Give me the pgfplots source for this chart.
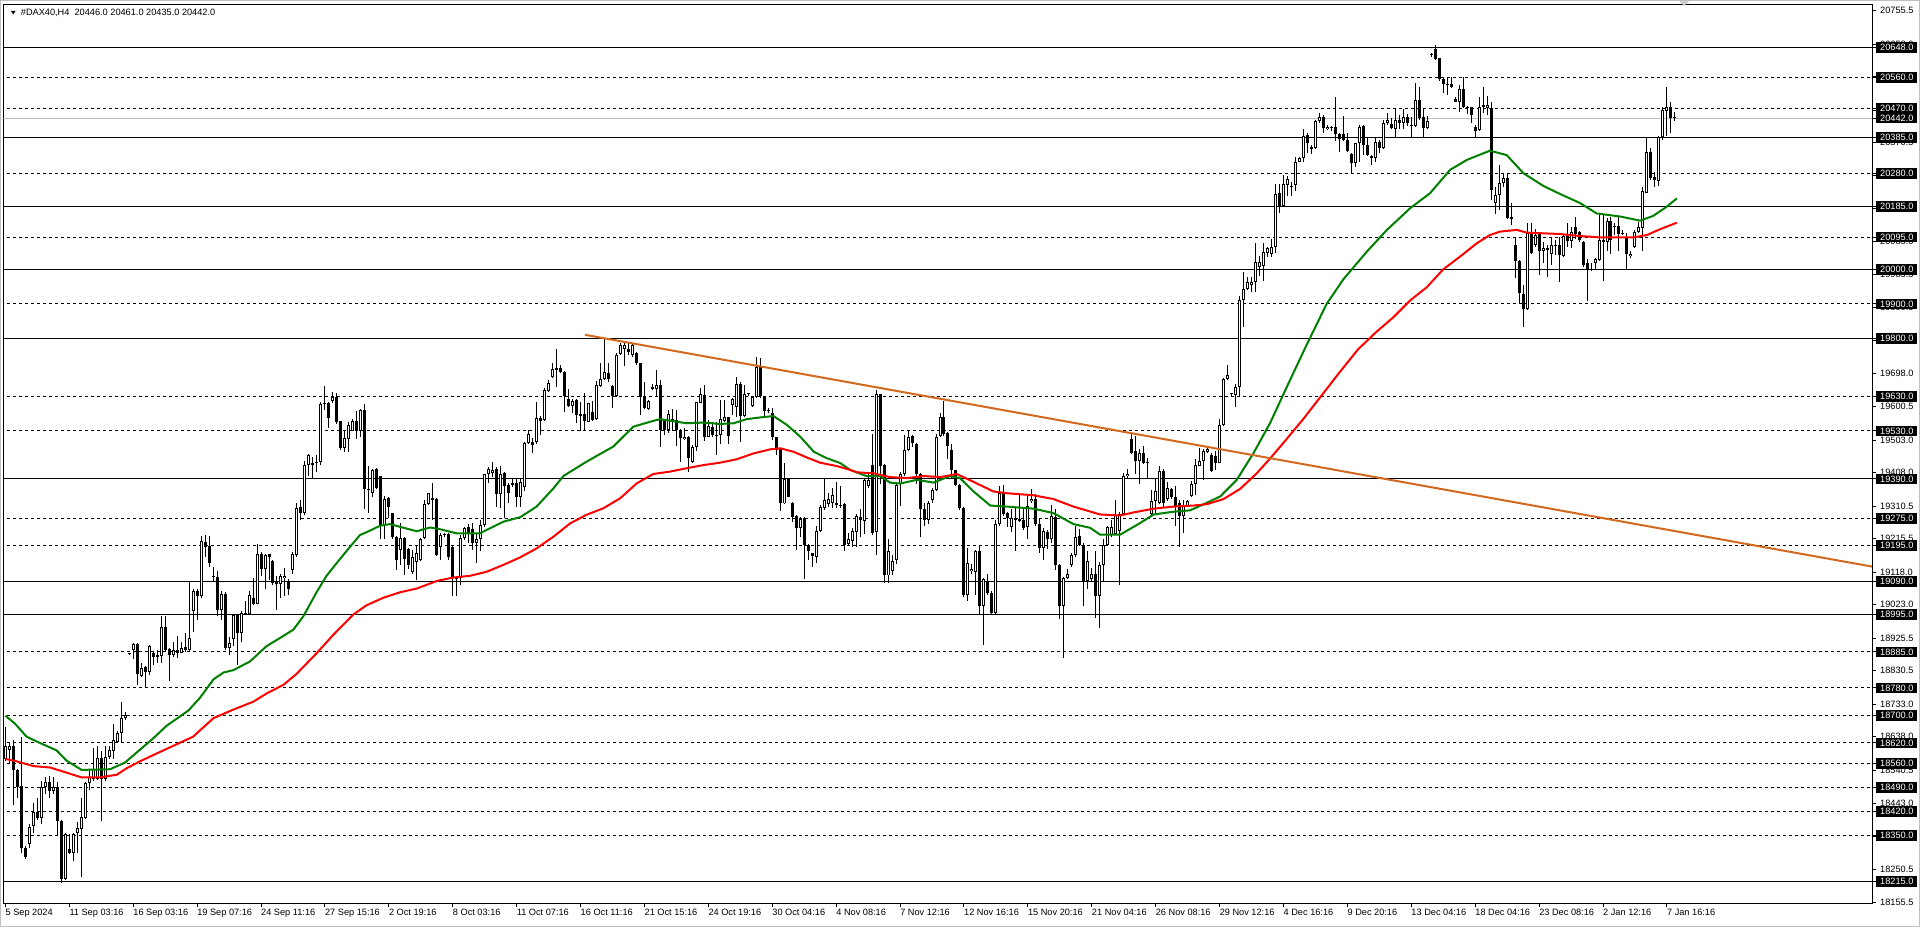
\documentclass[border=0pt]{standalone}
\usepackage{pgfplots}
\pgfplotsset{compat=1.18}
\usepackage{pgfplotstable}
\usepackage{fontspec}
\setmainfont{Liberation Sans}
\definecolor{trend}{RGB}{210,105,30}
\definecolor{magreen}{RGB}{0,128,0}
\newcommand\lbl{\fontsize{9.2}{11}\selectfont}

% H4 candles, one row per bar
\pgfplotstableread{
o h l c
18573 18665 18568 18611
18600 18622 18557 18611
18611 18627 18438 18541
18541 18545 18460 18492
18494 18638 18298 18314
18314 18320 18282 18287
18325 18384 18314 18374
18376 18444 18357 18419
18419 18460 18395 18400
18400 18508 18384 18490
18490 18520 18470 18505
18505 18522 18460 18480
18480 18520 18470 18490
18490 18505 18352 18393
18393 18395 18210 18222
18223 18357 18220 18354
18309 18354 18296 18298
18298 18357 18276 18354
18357 18390 18298 18371
18368 18458 18228 18404
18400 18505 18398 18503
18503 18541 18481 18519
18514 18605 18508 18544
18514 18611 18512 18576
18576 18595 18393 18514
18514 18611 18508 18579
18578 18611 18573 18600
18595 18676 18573 18627
18622 18654 18620 18649
18649 18738 18622 18692
18692 18710 18686 18702
18878 18882 18876 18880
18891 18911 18864 18908
18908 18911 18789 18821
18816 18854 18811 18837
18841 18843 18780 18827
18827 18905 18818 18902
18881 18884 18848 18870
18870 18891 18854 18875
18872 18989 18854 18958
18958 18989 18889 18891
18893 18897 18800 18875
18875 18913 18870 18891
18891 18931 18868 18883
18883 18915 18881 18897
18898 18940 18886 18891
18891 19093 18889 18927
19005 19069 18942 19064
19064 19070 18978 19048
19048 19224 19043 19208
19207 19226 19161 19191
19193 19224 19134 19143
19105 19134 19091 19103
19105 19121 18989 19008
19008 19062 18978 19055
19055 19059 18891 18897
18897 18929 18875 18910
18922 18994 18902 18992
18992 18994 18848 18940
18940 19005 18913 18999
18996 19035 18994 18999
18997 19062 18994 19051
19043 19100 19021 19026
19026 19199 19024 19170
19170 19177 19107 19127
19127 19172 19069 19167
19170 19172 19096 19161
19150 19153 19080 19086
19090 19107 19007 19083
19083 19113 19043 19107
19100 19129 19048 19107
19093 19099 19051 19069
19123 19177 19113 19172
19167 19318 19161 19305
19307 19328 19269 19291
19291 19442 19285 19429
19429 19461 19399 19458
19436 19455 19393 19431
19436 19458 19409 19440
19440 19614 19429 19609
19609 19660 19591 19612
19612 19614 19539 19566
19618 19644 19612 19628
19630 19641 19550 19555
19558 19560 19474 19480
19480 19528 19469 19509
19507 19555 19469 19547
19530 19563 19528 19560
19560 19588 19507 19530
19530 19593 19512 19590
19590 19609 19302 19361
19361 19426 19291 19356
19350 19420 19336 19415
19418 19422 19361 19364
19397 19399 19215 19256
19253 19339 19215 19332
19334 19336 19275 19307
19289 19291 19215 19221
19220 19222 19124 19153
19183 19261 19140 19217
19217 19220 19109 19156
19186 19188 19127 19138
19118 19183 19113 19163
19148 19194 19094 19174
19153 19218 19150 19215
19216 19328 19213 19316
19316 19350 19313 19348
19328 19377 19270 19333
19330 19333 19165 19168
19192 19231 19153 19226
19226 19231 19221 19228
19228 19231 19153 19163
19192 19194 19048 19100
19100 19105 19048 19097
19100 19226 19080 19218
19218 19250 19212 19246
19248 19258 19204 19231
19245 19260 19182 19204
19204 19228 19144 19215
19214 19270 19178 19255
19255 19404 19250 19404
19404 19425 19379 19418
19406 19440 19396 19416
19418 19425 19309 19346
19346 19427 19304 19404
19408 19411 19275 19370
19372 19377 19319 19350
19372 19389 19367 19377
19378 19391 19309 19338
19338 19391 19309 19380
19367 19498 19353 19494
19493 19532 19491 19520
19496 19508 19466 19489
19496 19615 19491 19566
19566 19573 19518 19560
19562 19654 19560 19649
19647 19678 19644 19669
19686 19727 19685 19709
19708 19768 19659 19712
19712 19722 19698 19701
19701 19703 19584 19632
19622 19651 19600 19602
19602 19622 19581 19618
19620 19622 19552 19576
19574 19615 19530 19579
19579 19641 19532 19559
19557 19612 19555 19610
19584 19617 19559 19562
19563 19676 19561 19663
19661 19727 19659 19680
19680 19800 19678 19701
19700 19727 19673 19682
19661 19663 19596 19632
19632 19756 19630 19751
19753 19785 19751 19780
19768 19785 19719 19780
19768 19785 19751 19761
19751 19785 19746 19780
19756 19761 19722 19727
19727 19729 19576 19628
19628 19673 19593 19596
19593 19620 19591 19618
19657 19667 19649 19651
19651 19707 19630 19664
19664 19678 19484 19532
19562 19564 19518 19532
19532 19591 19523 19578
19560 19593 19530 19562
19561 19591 19486 19532
19532 19534 19440 19508
19507 19537 19503 19513
19513 19515 19411 19450
19440 19489 19435 19484
19482 19615 19472 19613
19612 19654 19610 19637
19633 19664 19501 19511
19513 19562 19511 19544
19542 19557 19513 19518
19515 19557 19460 19518
19518 19620 19492 19564
19560 19620 19557 19569
19569 19571 19491 19515
19605 19625 19576 19623
19600 19686 19571 19667
19666 19673 19498 19573
19573 19664 19569 19637
19637 19641 19632 19638
19602 19632 19598 19628
19628 19746 19625 19715
19715 19741 19625 19632
19630 19632 19566 19589
19589 19596 19583 19591
19581 19596 19503 19511
19511 19513 19460 19474
19479 19481 19297 19319
19318 19435 19317 19390
19389 19391 19336 19338
19320 19323 19265 19280
19281 19284 19182 19246
19246 19280 19221 19272
19275 19280 19097 19197
19197 19200 19153 19180
19173 19175 19134 19165
19161 19252 19144 19239
19239 19314 19236 19307
19305 19390 19299 19328
19317 19348 19309 19331
19319 19362 19304 19343
19319 19382 19304 19314
19314 19370 19305 19312
19317 19320 19180 19197
19200 19231 19197 19214
19208 19247 19191 19238
19236 19286 19191 19281
19280 19303 19219 19270
19268 19392 19230 19387
19370 19404 19364 19387
19431 19521 19225 19231
19236 19649 19169 19636
19636 19638 19376 19426
19431 19433 19085 19108
19108 19214 19085 19178
19122 19169 19108 19149
19152 19381 19141 19372
19376 19409 19312 19404
19403 19517 19398 19473
19473 19532 19470 19513
19515 19517 19482 19493
19491 19493 19376 19404
19403 19406 19219 19301
19301 19320 19253 19270
19270 19325 19258 19320
19328 19364 19320 19357
19357 19521 19353 19513
19515 19582 19513 19569
19571 19618 19515 19521
19524 19526 19448 19487
19473 19491 19392 19415
19415 19417 19370 19372
19372 19376 19298 19305
19305 19308 19046 19052
19052 19189 19035 19145
19120 19141 19113 19127
19119 19183 19052 19178
19178 19194 18996 19018
19018 19102 18904 19097
19091 19113 19052 19058
19057 19063 18996 18999
18999 19270 18996 19258
19258 19370 19253 19348
19348 19372 19281 19286
19290 19294 19250 19275
19250 19303 19236 19275
19275 19309 19180 19270
19268 19350 19264 19272
19270 19303 19242 19247
19249 19342 19214 19312
19325 19359 19320 19331
19331 19345 19253 19258
19258 19275 19175 19189
19189 19247 19152 19238
19236 19242 19186 19214
19214 19314 19203 19281
19280 19301 19125 19138
19138 19141 18982 19018
19018 19104 18868 19102
19102 19127 19097 19113
19138 19175 19134 19169
19169 19253 19163 19219
19222 19245 19194 19197
19197 19203 19018 19089
19091 19178 19069 19149
19097 19130 19089 19111
19111 19178 18985 19049
19048 19147 18955 19138
19138 19214 19091 19197
19197 19253 19194 19250
19225 19270 19219 19250
19230 19328 19225 19283
19238 19292 19080 19286
19286 19406 19283 19398
19398 19420 19392 19404
19506 19521 19461 19465
19470 19515 19404 19443
19443 19476 19376 19465
19465 19487 19432 19435
19435 19450 19390 19437
19286 19357 19283 19325
19325 19392 19283 19353
19320 19428 19317 19413
19412 19420 19309 19320
19331 19381 19325 19364
19361 19364 19331 19337
19336 19368 19253 19312
19320 19328 19191 19281
19281 19328 19231 19312
19312 19328 19308 19325
19339 19383 19337 19376
19376 19448 19342 19431
19428 19479 19426 19443
19443 19476 19387 19471
19469 19482 19465 19476
19459 19465 19409 19413
19457 19471 19415 19437
19437 19565 19435 19546
19546 19683 19543 19680
19680 19722 19677 19692
19636 19640 19632 19637
19633 19666 19599 19658
19658 19923 19632 19911
19911 19992 19833 19945
19945 19978 19941 19964
19956 19978 19934 19964
19964 20079 19934 20021
20009 20040 19982 20021
20012 20079 19967 20051
20050 20067 20038 20062
20046 20089 20038 20067
20065 20250 20050 20221
20223 20250 20166 20186
20186 20276 20184 20250
20247 20273 20215 20264
20245 20257 20215 20240
20247 20328 20228 20315
20315 20330 20313 20325
20325 20409 20315 20390
20393 20398 20341 20369
20357 20364 20337 20351
20354 20437 20351 20435
20435 20456 20429 20444
20444 20451 20398 20412
20409 20422 20407 20415
20415 20419 20403 20412
20417 20503 20376 20396
20396 20398 20344 20380
20396 20448 20376 20378
20378 20398 20344 20347
20337 20339 20283 20312
20312 20370 20299 20369
20369 20422 20315 20417
20419 20422 20334 20364
20364 20386 20332 20334
20332 20334 20305 20327
20327 20383 20315 20373
20373 20378 20341 20354
20354 20437 20351 20427
20429 20456 20422 20437
20424 20441 20409 20412
20409 20471 20383 20437
20437 20451 20409 20429
20429 20468 20409 20444
20444 20454 20419 20427
20422 20444 20388 20419
20419 20545 20417 20495
20495 20534 20437 20441
20444 20471 20383 20412
20412 20448 20409 20435
20626 20631 20621 20627
20643 20655 20612 20613
20616 20618 20551 20555
20555 20563 20514 20542
20539 20563 20509 20542
20542 20563 20529 20532
20497 20505 20488 20490
20490 20539 20461 20526
20526 20561 20471 20475
20475 20477 20454 20471
20474 20475 20427 20451
20417 20422 20388 20405
20407 20505 20405 20475
20480 20534 20456 20475
20471 20507 20451 20480
20471 20490 20203 20232
20195 20242 20162 20218
20218 20305 20174 20254
20254 20281 20242 20266
20266 20281 20147 20150
20155 20194 20130 20147
20072 20096 19975 20026
20026 20028 19900 19931
19929 19955 19832 19884
19884 20135 19882 20106
20106 20137 20046 20048
20072 20118 20067 20101
20104 20108 19984 20055
20055 20082 20019 20062
20057 20072 19980 20062
20046 20096 20014 20072
20069 20087 20043 20072
20072 20096 19965 20042
20040 20104 20038 20098
20101 20137 20067 20085
20085 20125 20062 20111
20125 20155 20089 20104
20111 20114 20082 20087
20082 20085 20009 20014
20019 20030 19910 19999
19999 20019 19997 20001
20020 20033 19999 20030
20028 20160 20026 20087
20087 20160 19968 20082
20082 20150 20055 20143
20143 20155 20046 20087
20124 20137 20101 20127
20127 20155 20053 20104
20104 20116 20101 20108
20091 20106 20001 20046
20040 20053 20033 20046
20065 20116 20063 20111
20110 20140 20106 20124
20121 20242 20053 20228
20225 20386 20223 20344
20344 20354 20262 20266
20271 20286 20242 20262
20260 20390 20244 20388
20386 20474 20378 20466
20464 20532 20390 20474
20474 20490 20398 20441
20446 20461 20435 20442
}\candles

% moving averages (bar, price)
\pgfplotstableread{
x y
0 18699
2.4 18676
5.3 18638
7.8 18624
12.8 18598
15.3 18568
19.1 18541
26.2 18543
29.9 18562
33.7 18600
37 18633
40.4 18670
45.8 18714
48.7 18751
52.1 18805
54.6 18825
57.1 18832
61.2 18857
65.4 18902
68.8 18926
72.1 18950
74.6 18989
77.9 19059
80.4 19107
83 19145
86.3 19192
88.8 19226
91.3 19239
93.8 19253
96.3 19258
98.8 19250
103 19237
106.3 19248
108.8 19243
113 19231
118.8 19231
120.5 19241
124.7 19265
128.9 19278
133 19309
137.2 19362
139.7 19398
145.5 19440
152.2 19484
157.2 19542
162.2 19559
163.9 19564
170.6 19552
174.8 19554
178.9 19550
182.3 19552
185.6 19564
189 19569
192.3 19573
195.7 19547
199 19513
202.4 19469
205.7 19450
209 19436
211.5 19416
215.6 19398
219 19398
221.5 19379
224 19376
228.2 19387
232.4 19379
236.5 19398
239 19392
242.4 19353
246.6 19312
250.7 19309
257.4 19303
262.4 19290
267.4 19258
271.6 19247
274.1 19227
279.1 19227
284.1 19261
287.5 19286
292.5 19294
296.6 19298
300.8 19320
304.2 19339
308.3 19387
312.5 19465
316.7 19554
321 19662
325.4 19771
330.8 19900
335 19972
340.9 20053
345.9 20116
351.7 20179
356.7 20223
361.7 20291
365.9 20320
371.7 20347
375.9 20334
380.1 20281
385.1 20244
389.2 20221
394.3 20194
398.4 20164
404.3 20155
409.3 20143
412.6 20157
416 20184
418.5 20208
}\magreen

\pgfplotstableread{
x y
0 18573
2.8 18566
7 18552
11.2 18548
15.3 18533
19.1 18519
23.7 18519
27.9 18527
30.4 18546
33.7 18566
37.9 18589
42 18611
47 18638
52.1 18692
57.1 18717
62.1 18740
65.4 18764
69.6 18789
72.9 18821
77.9 18881
82.1 18935
87.1 18994
90.4 19021
94.6 19043
98.8 19059
103 19070
108 19092
112.1 19102
116.3 19107
120.5 19119
124.7 19139
128.9 19161
133 19187
137.2 19221
141.4 19260
145.5 19285
149.7 19304
153.9 19333
158.1 19377
162.2 19404
166.4 19411
170.6 19421
174.8 19430
178.9 19437
183.1 19447
187.3 19464
191.5 19476
194 19479
197.3 19469
200.7 19452
204 19437
208.2 19427
211.5 19416
213.2 19409
217.4 19406
221.5 19395
225.7 19392
229.9 19398
234.1 19395
238.2 19404
242.4 19381
247.4 19353
250.7 19348
257.4 19342
262.4 19331
267.4 19309
274.1 19286
279.1 19283
282.5 19292
287.5 19303
292.5 19309
297.5 19312
300.8 19316
305 19331
309.2 19361
313.3 19406
316.7 19450
320 19495
325 19565
330 19640
334 19700
338.7 19768
343.3 19819
347.5 19861
351.7 19910
355.9 19949
360 20001
364.2 20038
368.4 20077
371.7 20101
374.2 20111
378.4 20116
380.9 20108
385.1 20106
389.2 20104
394.3 20098
399.3 20094
404.3 20094
407.6 20094
411 20101
414.3 20118
418.5 20137
}\mared

\begin{document}
\begin{tikzpicture}[x=1pt,y=1pt]
\useasboundingbox[fill=white] (0,0) rectangle (1920,927);
\draw[black!25] (0.5,0.5) rectangle (1919.5,926.5);
\begin{axis}[
  at={(3.4pt,24pt)}, anchor=south west,
  scale only axis, width=1868.6pt, height=898.3pt,
  xmin=-0.5, xmax=467.35, ymin=18152.8, ymax=20772.8,
  scaled x ticks=false, scaled y ticks=false,
  axis line style={line width=1pt},
  tick align=outside, major tick length=4pt,
  tick style={black, line width=1pt},
  xtick pos=left, ytick pos=right,
  xticklabel pos=left, yticklabel pos=right,
  every tick label/.append style={font=\lbl},
  xtick={0,16,...,416},
  xticklabels={5 Sep 2024, 11 Sep 03:16, 16 Sep 03:16, 19 Sep 07:16, 24 Sep 11:16,
    27 Sep 15:16, 2 Oct 19:16, 8 Oct 03:16, 11 Oct 07:16, 16 Oct 11:16, 21 Oct 15:16,
    24 Oct 19:16, 30 Oct 04:16, 4 Nov 08:16, 7 Nov 12:16, 12 Nov 16:16, 15 Nov 20:16,
    21 Nov 04:16, 26 Nov 08:16, 29 Nov 12:16, 4 Dec 16:16, 9 Dec 20:16, 13 Dec 04:16,
    18 Dec 04:16, 23 Dec 08:16, 2 Jan 12:16, 7 Jan 16:16},
  xticklabel style={anchor=north west, inner sep=0pt, yshift=-2pt},
  ytick={18155.5,18250.5,18348,18443,18540.5,18638,18733,18830.5,18925.5,19023,
    19118,19215.5,19310.5,19408,19503,19600.5,19698,19793,19890.5,19985.5,20083,
    20178,20275.5,20370.5,20465.5,20563,20658,20755.5},
  yticklabels={18155.5,18250.5,18348.0,18443.0,18540.5,18638.0,18733.0,18830.5,18925.5,19023.0,
    19118.0,19215.5,19310.5,19408.0,19503.0,19600.5,19698.0,19793.0,19890.5,19985.5,20083.0,
    20178.0,20275.5,20370.5,20465.5,20563.0,20658.0,20755.5},
  yticklabel style={anchor=west, inner xsep=4pt, inner ysep=2pt, text height=6.6pt, text depth=0pt},
  extra y ticks={20648,20560,20470,20442,20385,20280,20185,20095,20000,19900,19800,
    19630,19530,19390,19275,19195,19090,18995,18885,18780,18700,18620,18560,18490,
    18420,18350,18215},
  extra y tick labels={20648.0,20560.0,20470.0,20442.0,20385.0,20280.0,20185.0,20095.0,
    20000.0,19900.0,19800.0,19630.0,19530.0,19390.0,19275.0,19195.0,19090.0,18995.0,
    18885.0,18780.0,18700.0,18620.0,18560.0,18490.0,18420.0,18350.0,18215.0},
  extra y tick style={yticklabel style={fill=black, text=white}},
  candle/.style={only marks, mark size=0pt, mark options={draw=none, fill=none}, forget plot,
    error bars/.cd, y dir=plus, y explicit, error mark=none},
]
% support / resistance levels
\pgfplotsinvokeforeach{20648,20385,20185,20000,19800,19390,19090,18995,18215}{
  \addplot[black, line width=1pt, forget plot] coordinates {(-1,#1) (470,#1)};
}
\pgfplotsinvokeforeach{20560,20470,20280,20095,19900,19630,19530,19275,19195,
  18885,18780,18700,18620,18560,18490,18420,18350}{
  \addplot[black, line width=1pt, dash pattern=on 3pt off 3pt, forget plot]
    coordinates {(-1,#1) (470,#1)};
}
\addplot[black!25, line width=1pt, forget plot] coordinates {(-1,20442) (470,20442)};

% wicks
\addplot[candle, error bar style={black, line width=1pt}]
  table[x expr=\coordindex, y=l, y error plus expr=\thisrow{h}-\thisrow{l}] {\candles};
% bodies
\addplot[candle, error bar style={black, line width=3pt}]
  table[x expr=\coordindex, y expr={min(\thisrow{o},\thisrow{c})},
        y error plus expr={max(abs(\thisrow{c}-\thisrow{o}),3)}] {\candles};
% hollow inside of rising candles
\addplot[candle, error bar style={white, line width=1pt}]
  table[x expr=\coordindex, y expr=\thisrow{o}+2.9,
        y error plus expr={max(\thisrow{c}-\thisrow{o}-5.8,0)}] {\candles};

% moving averages
\addplot[magreen, line width=2pt, forget plot] table[x=x, y=y] {\magreen};
\addplot[red, line width=2pt, forget plot] table[x=x, y=y] {\mared};
% trendline
\addplot[trend, line width=2pt, forget plot] coordinates {(145.1,19810) (467.35,19134)};
\end{axis}
\fill (11,916) -- (15.5,916) -- (13.25,912.5) -- cycle;
\node[anchor=west, inner sep=0pt, font=\lbl] at (20.7,913.7)
  {\#DAX40,H4\ \ 20446.0 20461.0 20435.0 20442.0};
\fill[black!20] (1679,926) -- (1689,926) -- (1684,921) -- cycle;
\end{tikzpicture}
\end{document}
